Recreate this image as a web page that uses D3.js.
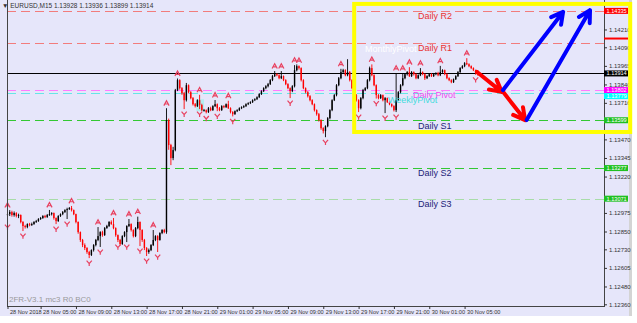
<!DOCTYPE html>
<html>
<head>
<meta charset="utf-8">
<script src="https://cdnjs.cloudflare.com/ajax/libs/d3/7.8.5/d3.min.js"></script>
<style>
  html, body { margin: 0; padding: 0; background: #fff; }
  svg { display: block; font-family: "Liberation Sans", Arial, sans-serif; }
</style>
</head>
<body>
<svg id="chart" width="637" height="323"></svg>
<script>
/*
* EURUSD M15 with daily pivots
*/
(function () {
  'use strict';

  // candles, 15 min bars from 28 Nov 01:15 (open = previous close)
  var firstOpen = 1.12960;
  var closes = [
    1.12967,1.12981,1.12961,1.12974,1.12954,1.12961,1.12914,1.12887,1.12880,1.12900,
    1.12893,1.12900,1.12914,1.12920,1.12934,1.12941,1.12954,1.12947,1.12961,1.12967,
    1.12974,1.12941,1.12920,1.12954,1.12967,1.12981,1.12994,1.13001,1.13008,1.12994,
    1.12967,1.12914,1.12846,1.12793,1.12759,1.12739,1.12712,1.12692,1.12725,1.12759,
    1.12793,1.12819,1.12846,1.12826,1.12873,1.12887,1.12914,1.12900,1.12873,1.12826,
    1.12793,1.12766,1.12819,1.12846,1.12887,1.12900,1.12860,1.12819,1.12873,1.12914,
    1.12860,1.12793,1.12739,1.12712,1.12725,1.12759,1.12793,1.12819,1.12793,1.12840,
    1.12860,1.12846,1.13600,1.13432,1.13344,1.13398,1.13802,1.13869,1.13815,1.13781,
    1.13734,1.13835,1.13788,1.13748,1.13707,1.13694,1.13734,1.13701,1.13667,1.13667,
    1.13654,1.13680,1.13667,1.13694,1.13707,1.13680,1.13667,1.13694,1.13687,1.13707,
    1.13680,1.13654,1.13640,1.13660,1.13667,1.13680,1.13687,1.13694,1.13707,1.13714,
    1.13721,1.13734,1.13741,1.13754,1.13775,1.13795,1.13815,1.13828,1.13842,1.13869,
    1.13896,1.13909,1.13902,1.13882,1.13896,1.13869,1.13842,1.13815,1.13795,1.13828,
    1.13936,1.13963,1.13950,1.13869,1.13815,1.13788,1.13761,1.13734,1.13707,1.13667,
    1.13640,1.13600,1.13546,1.13526,1.13559,1.13613,1.13667,1.13734,1.13768,1.13835,
    1.13882,1.13923,1.13936,1.13902,1.13923,1.13869,1.13815,1.13768,1.13734,1.13680,
    1.13748,1.13802,1.13815,1.13869,1.13950,1.13902,1.13835,1.13768,1.13748,1.13768,
    1.13734,1.13748,1.13721,1.13707,1.13694,1.13667,1.13734,1.13788,1.13835,1.13882,
    1.13909,1.13923,1.13896,1.13923,1.13909,1.13882,1.13902,1.13923,1.13909,1.13882,
    1.13896,1.13909,1.13896,1.13909,1.13916,1.13902,1.13923,1.13936,1.13909,1.13882,
    1.13869,1.13855,1.13875,1.13896,1.13923,1.13950,1.13963,1.13983,1.13976,1.13963,
    1.13950,1.13936,1.13928,1.13914
  ];
  var highs = [
    1.12994,1.12994,1.12990,1.12985,1.12980,1.12970,1.12965,1.12920,1.12895,1.12905,
    1.12908,1.12910,1.12920,1.12928,1.12940,1.12948,1.12960,1.12962,1.12968,1.12995,
    1.12980,1.12978,1.12945,1.12960,1.12972,1.12988,1.13000,1.13010,1.13015,1.13022,
    1.12998,1.12970,1.12918,1.12850,1.12800,1.12770,1.12745,1.12720,1.12730,1.12765,
    1.12800,1.12880,1.12852,1.12855,1.12880,1.12895,1.12920,1.12925,1.12941,1.12878,
    1.12830,1.12800,1.12825,1.12852,1.12892,1.12934,1.12905,1.12865,1.12880,1.12950,
    1.12918,1.12865,1.12800,1.12745,1.12735,1.12765,1.12860,1.12825,1.12825,1.12845,
    1.12866,1.12868,1.13680,1.13610,1.13440,1.13420,1.13810,1.13880,1.13875,1.13822,
    1.13790,1.13850,1.13840,1.13795,1.13755,1.13715,1.13740,1.13770,1.13710,1.13675,
    1.13672,1.13688,1.13690,1.13700,1.13735,1.13712,1.13688,1.13700,1.13700,1.13712,
    1.13730,1.13686,1.13660,1.13665,1.13673,1.13686,1.13693,1.13700,1.13713,1.13720,
    1.13727,1.13740,1.13747,1.13760,1.13781,1.13801,1.13821,1.13835,1.13850,1.13876,
    1.13904,1.13930,1.13915,1.13908,1.13930,1.13900,1.13875,1.13848,1.13820,1.13835,
    1.13970,1.13975,1.13968,1.13955,1.13875,1.13820,1.13795,1.13768,1.13740,1.13712,
    1.13672,1.13648,1.13605,1.13552,1.13565,1.13620,1.13673,1.13740,1.13775,1.13842,
    1.13890,1.13945,1.13945,1.13942,1.14010,1.13930,1.13875,1.13820,1.13775,1.13740,
    1.13755,1.13810,1.13822,1.13876,1.13960,1.13975,1.13908,1.13840,1.13775,1.13775,
    1.13772,1.13755,1.13752,1.13728,1.13712,1.13700,1.13916,1.13795,1.13842,1.13916,
    1.13915,1.13930,1.13956,1.13930,1.13928,1.13915,1.13908,1.13950,1.13928,1.13915,
    1.13902,1.13915,1.13915,1.13915,1.13922,1.13925,1.13965,1.13942,1.13940,1.13915,
    1.13888,1.13875,1.13880,1.13902,1.13930,1.13956,1.13970,1.13990,1.14017,1.13982,
    1.13968,1.13955,1.13940,1.13936
  ];
  var lows = [
    1.12914,1.12954,1.12950,1.12950,1.12945,1.12940,1.12905,1.12853,1.12870,1.12872,
    1.12885,1.12888,1.12895,1.12908,1.12915,1.12928,1.12935,1.12940,1.12942,1.12955,
    1.12958,1.12930,1.12900,1.12915,1.12948,1.12960,1.12975,1.12934,1.12995,1.12985,
    1.12960,1.12905,1.12835,1.12780,1.12745,1.12725,1.12700,1.12671,1.12685,1.12715,
    1.12750,1.12785,1.12746,1.12815,1.12820,1.12868,1.12880,1.12895,1.12865,1.12815,
    1.12779,1.12755,1.12760,1.12812,1.12779,1.12880,1.12850,1.12810,1.12812,1.12865,
    1.12752,1.12780,1.12725,1.12685,1.12700,1.12718,1.12752,1.12785,1.12712,1.12788,
    1.12832,1.12838,1.12835,1.13400,1.13297,1.13330,1.13390,1.13795,1.13805,1.13770,
    1.13674,1.13725,1.13780,1.13740,1.13698,1.13685,1.13688,1.13674,1.13660,1.13658,
    1.13645,1.13648,1.13660,1.13662,1.13688,1.13660,1.13660,1.13662,1.13680,1.13682,
    1.13675,1.13645,1.13625,1.13635,1.13654,1.13661,1.13674,1.13681,1.13688,1.13701,
    1.13708,1.13715,1.13728,1.13735,1.13748,1.13769,1.13789,1.13808,1.13820,1.13836,
    1.13862,1.13890,1.13895,1.13875,1.13876,1.13862,1.13835,1.13808,1.13748,1.13788,
    1.13820,1.13928,1.13940,1.13860,1.13808,1.13780,1.13752,1.13726,1.13700,1.13658,
    1.13630,1.13590,1.13535,1.13510,1.13485,1.13552,1.13605,1.13660,1.13728,1.13760,
    1.13828,1.13875,1.13915,1.13895,1.13895,1.13860,1.13808,1.13760,1.13725,1.13654,
    1.13672,1.13740,1.13795,1.13808,1.13860,1.13895,1.13828,1.13745,1.13740,1.13742,
    1.13726,1.13647,1.13715,1.13700,1.13686,1.13658,1.13654,1.13728,1.13780,1.13828,
    1.13875,1.13900,1.13890,1.13890,1.13900,1.13875,1.13876,1.13896,1.13902,1.13870,
    1.13876,1.13890,1.13890,1.13890,1.13902,1.13895,1.13896,1.13918,1.13902,1.13875,
    1.13862,1.13848,1.13850,1.13870,1.13890,1.13918,1.13945,1.13956,1.13970,1.13956,
    1.13943,1.13930,1.13905,1.13899
  ];

  // fractal arrows (bar indexes)
  var upFractals = [0, 19, 29, 41, 48, 55, 59, 66, 72, 77, 87, 94, 100, 121, 124, 130, 132, 151, 165, 176, 179, 182, 187, 196, 208];
  var downFractals = [0, 7, 22, 27, 37, 42, 50, 54, 60, 63, 68, 80, 87, 90, 95, 102, 128, 144, 159, 167, 171, 176, 212];

  // pivot levels
  var levelNames = ['Daily R2', 'Daily R1', 'Daily Pivot', 'WeeklyPivot', 'Daily S1', 'Daily S2', 'Daily S3'];
  var levelValues = [1.14335, 1.14122, 1.13802, 1.13779, 1.13599, 1.13277, 1.13071];
  var monthlyPivotName = 'MonthlyPivot';
  var lastPrice = 1.13914;
  var extraAxisLine = 1.14149;

  var priceTicks = [1.14210, 1.14090, 1.13965, 1.13840, 1.13716, 1.13593, 1.13470, 1.13345,
    1.13220, 1.13095, 1.12975, 1.12850, 1.12730, 1.12605, 1.12480, 1.12360];
  var timeLabelBars = [0, 15, 31, 47, 63, 79, 95, 111, 127, 143, 159, 175, 191, 207];
  var timeLabels = ['28 Nov 2018', '28 Nov 05:00', '28 Nov 09:00', '28 Nov 13:00', '28 Nov 17:00',
    '28 Nov 21:00', '29 Nov 01:00', '29 Nov 05:00', '29 Nov 09:00', '29 Nov 13:00',
    '29 Nov 17:00', '29 Nov 21:00', '30 Nov 01:00', '30 Nov 05:00'];

  var headerText = '\u25BC EURUSD,M15  1.13928 1.13936 1.13899 1.13914';
  var footerText = '2FR-V3.1 mc3 R0 BC0';

  // drawn annotations: [fromBar, fromPrice, toBar, toPrice]
  var redArrows = [[212.5, 1.13925, 223.8, 1.13790], [223.8, 1.13802, 234.4, 1.13600]];
  var blueArrows = [[224.4, 1.13802, 251.6, 1.14328], [235.1, 1.13600, 263.8, 1.14340]];
  var yellowBox = [157, 282, 1.14382, 1.13520];
  var cyanBox = [85.5, 89, 1.13740, 1.13660];

  // styles
  var lineColors = ['#f27c7c', '#f27c7c', '#ff7cff', '#66e6e6', '#33c833', '#33c833', '#a8dca8'];
  var textColors = ['#e83232', '#e83232', '#f04cf0', '#44dcdc', '#1c1c78', '#1c1c78', '#1c1c78'];
  var boxColors = ['#ff0000', null, '#ff00ff', '#00ffff', '#20c020', '#20c020', '#20c020'];
  var textX = [418, 418, 413, 388, 418, 418, 418];
  var textDy = [8, 8, 8, 9.5, 8.5, 8, 8];

  var W = 637, H = 323;
  var left = 7, right = 604, bottom = 306;
  var boxH = 6;

  var svg = d3.select('#chart');

  var x = d3.scaleLinear().domain([0, 270]).range([7.5, 603.7]);
  var y = d3.scaleLinear().domain([1.12360, 1.14335]).range([304.3, 10.9]);

  var opens = [firstOpen].concat(closes.slice(0, -1));
  var bars = closes.map(function (c, i) {
    return { i: i, o: opens[i], h: highs[i], l: lows[i], c: c };
  });

  // background
  svg.append('rect').attr('width', W).attr('height', H).attr('fill', '#ffffff');
  svg.append('rect').attr('width', 630).attr('height', 316).attr('fill', '#e6e6fa');
  svg.append('rect').attr('x', 629).attr('width', 3).attr('height', 316).attr('fill', '#d4d4d4');

  var plot = svg.append('g');

  // level lines
  plot.selectAll('line.level')
    .data(levelValues)
    .enter().append('line')
    .attr('class', 'level')
    .attr('x1', left).attr('x2', right)
    .attr('y1', function (d) { return Math.round(y(d)) + 0.5; })
    .attr('y2', function (d) { return Math.round(y(d)) + 0.5; })
    .attr('stroke', function (d, i) { return lineColors[i]; })
    .attr('stroke-width', 1)
    .attr('stroke-dasharray', '9,5');

  // current price line
  plot.append('line')
    .attr('x1', left).attr('x2', right)
    .attr('y1', Math.round(y(lastPrice)) + 0.5).attr('y2', Math.round(y(lastPrice)) + 0.5)
    .attr('stroke', '#000').attr('stroke-width', 1);

  // cyan box around a candle
  plot.append('rect')
    .attr('x', x(cyanBox[0])).attr('width', x(cyanBox[1]) - x(cyanBox[0]))
    .attr('y', y(cyanBox[2])).attr('height', y(cyanBox[3]) - y(cyanBox[2]))
    .attr('fill', '#b4eef0');

  // candles
  var candle = plot.selectAll('g.candle')
    .data(bars)
    .enter().append('g')
    .attr('class', 'candle');

  function col(d) { return d.c >= d.o ? '#000000' : '#ff0000'; }

  candle.append('line')
    .attr('x1', function (d) { return x(d.i); })
    .attr('x2', function (d) { return x(d.i); })
    .attr('y1', function (d) { return y(d.h); })
    .attr('y2', function (d) { return y(d.l); })
    .attr('stroke', col)
    .attr('stroke-width', 0.9);

  candle.append('rect')
    .attr('x', function (d) { return x(d.i) - 0.7; })
    .attr('width', 1.4)
    .attr('y', function (d) { return y(Math.max(d.o, d.c)); })
    .attr('height', function (d) { return Math.max(1, Math.abs(y(d.o) - y(d.c))); })
    .attr('fill', col);

  // fractal markers
  var fracColor = '#e8405f';
  plot.selectAll('path.up')
    .data(upFractals)
    .enter().append('path')
    .attr('class', 'up')
    .attr('transform', function (d) { return 'translate(' + x(d) + ',' + (y(highs[d]) - 5) + ')'; })
    .attr('d', 'M-2.6,2.4L0,-2.4L2.6,2.4M-1.2,0.8L1.2,0.8')
    .attr('fill', 'none').attr('stroke', fracColor).attr('stroke-width', 1.2);

  plot.selectAll('path.down')
    .data(downFractals)
    .enter().append('path')
    .attr('class', 'down')
    .attr('transform', function (d) { return 'translate(' + x(d) + ',' + (y(lows[d]) + 5) + ')'; })
    .attr('d', 'M-2.6,-2.4L0,0.6L2.6,-2.4M0,0.6L0,2.8')
    .attr('fill', 'none').attr('stroke', fracColor).attr('stroke-width', 1.2);

  // level texts
  plot.selectAll('text.level')
    .data(levelNames)
    .enter().append('text')
    .attr('class', 'level')
    .attr('x', function (d, i) { return textX[i]; })
    .attr('y', function (d, i) { return y(levelValues[i]) + textDy[i]; })
    .attr('fill', function (d, i) { return textColors[i]; })
    .attr('font-size', '9px')
    .text(function (d) { return d; });

  plot.append('text')
    .attr('x', 365).attr('y', 52)
    .attr('fill', '#ffffff').attr('font-size', '9px')
    .text(monthlyPivotName);

  // header + footer
  svg.append('text')
    .attr('x', 2).attr('y', 8)
    .attr('fill', '#333').attr('font-size', '6.5px')
    .text(headerText);

  svg.append('text')
    .attr('x', 9).attr('y', 302)
    .attr('fill', '#9a9a9a').attr('font-size', '8px')
    .text(footerText);

  // frame
  svg.append('path')
    .attr('d', 'M' + left + ',0V' + bottom + 'H' + right + 'V0')
    .attr('fill', 'none').attr('stroke', '#444').attr('stroke-width', 1)
    .attr('shape-rendering', 'crispEdges');

  // price label boxes on the axis (stacked so they don't sit on each other)
  var boxes = [];
  levelValues.forEach(function (v, i) {
    if (boxColors[i]) boxes.push({ v: v, bg: boxColors[i], fg: '#ffffff' });
  });
  boxes.push({ v: lastPrice, bg: '#000000', fg: '#ffffff' });
  boxes.sort(function (a, b) { return b.v - a.v; });
  boxes.forEach(function (b, i) {
    b.cy = y(b.v);
    if (i > 0 && b.cy - boxes[i - 1].cy < boxH) b.cy = boxes[i - 1].cy + boxH;
  });

  // price axis, skip tick labels hidden by the boxes
  var shownTicks = priceTicks.filter(function (t) {
    return boxes.every(function (b) { return Math.abs(y(t) - b.cy) > 5.5; });
  });

  var yAxis = d3.axisRight(y)
    .tickValues(shownTicks)
    .tickFormat(d3.format('.5f'))
    .tickSize(3)
    .tickPadding(2);

  var ya = svg.append('g')
    .attr('transform', 'translate(' + right + ',0)')
    .call(yAxis);
  ya.select('.domain').remove();
  ya.selectAll('line').attr('stroke', '#333');
  ya.selectAll('text')
    .attr('font-size', '6px')
    .attr('font-family', '"Liberation Sans", Arial, sans-serif')
    .attr('fill', '#333');

  // time axis
  var xAxis = d3.axisBottom(x)
    .tickValues(timeLabelBars)
    .tickFormat(function (d, i) { return timeLabels[i]; })
    .tickSize(3)
    .tickPadding(1);

  var xa = svg.append('g')
    .attr('transform', 'translate(0,' + bottom + ')')
    .call(xAxis);
  xa.select('.domain').remove();
  xa.selectAll('line').attr('stroke', '#333');
  xa.selectAll('text')
    .attr('text-anchor', 'start')
    .attr('dx', '2')
    .attr('font-size', '5.6px')
    .attr('font-family', '"Liberation Sans", Arial, sans-serif')
    .attr('fill', '#333');

  var bx = svg.selectAll('g.box')
    .data(boxes)
    .enter().append('g')
    .attr('class', 'box')
    .attr('transform', function (d) { return 'translate(' + right + ',' + d.cy + ')'; });
  bx.append('rect')
    .attr('x', 0).attr('y', -boxH / 2).attr('width', 24).attr('height', boxH)
    .attr('fill', function (d) { return d.bg; });
  bx.append('text')
    .attr('x', 2.5).attr('y', 2)
    .attr('font-size', '5.6px')
    .attr('fill', function (d) { return d.fg; })
    .text(function (d) { return d3.format('.5f')(d.v); });

  svg.append('line')
    .attr('x1', right).attr('x2', right + 24)
    .attr('y1', y(extraAxisLine)).attr('y2', y(extraAxisLine))
    .attr('stroke', '#ff0000').attr('stroke-width', 2);

  // arrows
  function drawArrows(list, color) {
    var g = svg.append('g')
      .attr('stroke', color).attr('stroke-width', 4)
      .attr('stroke-linecap', 'round').attr('stroke-linejoin', 'round')
      .attr('fill', 'none');
    g.selectAll('path')
      .data(list)
      .enter().append('path')
      .attr('d', function (a) {
        var x0 = x(a[0]), y0 = y(a[1]), x1 = x(a[2]), y1 = y(a[3]);
        var ang = Math.atan2(y1 - y0, x1 - x0);
        var len = 13, spread = 0.5;
        var ax = x1 - len * Math.cos(ang - spread), ay = y1 - len * Math.sin(ang - spread);
        var bx2 = x1 - len * Math.cos(ang + spread), by = y1 - len * Math.sin(ang + spread);
        return 'M' + x0 + ',' + y0 + 'L' + x1 + ',' + y1 +
          'M' + ax + ',' + ay + 'L' + x1 + ',' + y1 + 'L' + bx2 + ',' + by;
      });
  }
  drawArrows(redArrows, '#ff0000');
  drawArrows(blueArrows, '#0000ff');

  // yellow box
  svg.append('rect')
    .attr('x', x(yellowBox[0])).attr('width', x(yellowBox[1]) - x(yellowBox[0]))
    .attr('y', y(yellowBox[2])).attr('height', y(yellowBox[3]) - y(yellowBox[2]))
    .attr('fill', 'none').attr('stroke', '#ffff00').attr('stroke-width', 4);
})();
</script>
</body>
</html>
